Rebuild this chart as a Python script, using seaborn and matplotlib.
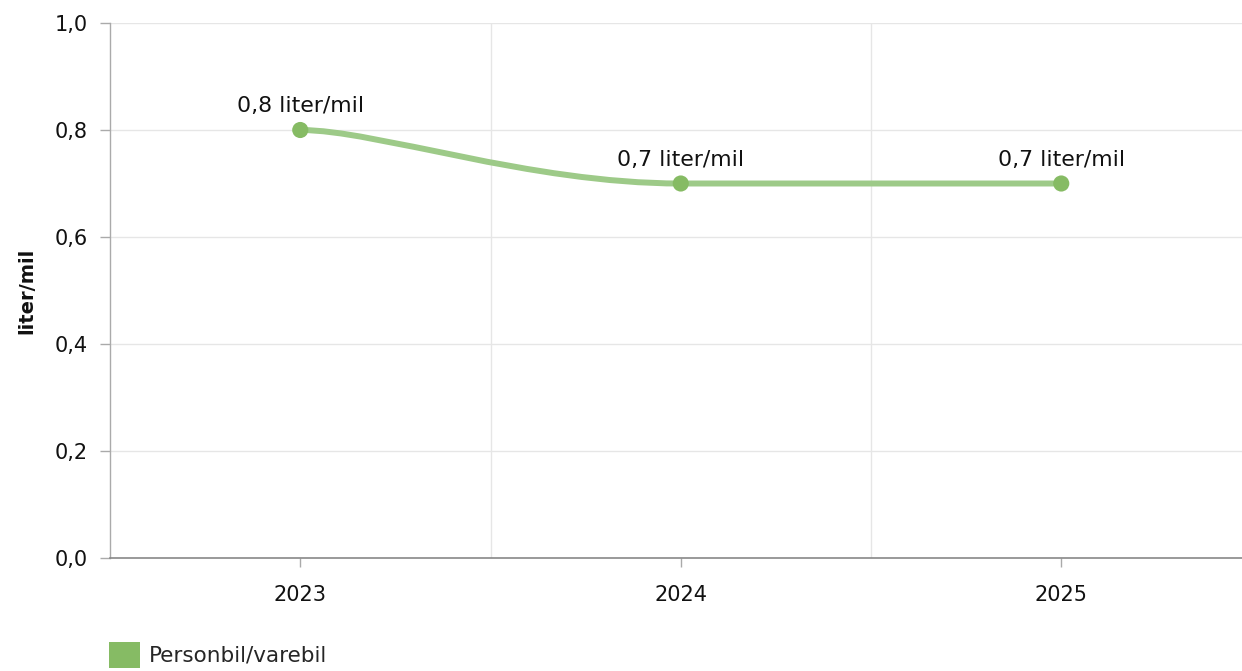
import numpy as np
import pandas as pd
import matplotlib
matplotlib.use('Agg')
import matplotlib.pyplot as plt
from matplotlib.path import Path
from matplotlib.patches import PathPatch, Patch
from matplotlib.ticker import FuncFormatter, FixedLocator
import seaborn as sns

aar = ['2023', '2024', '2025']
forbruk = [0.8, 0.7, 0.7]
serie = 'Personbil/varebil'
enhet = 'liter/mil'

df = pd.DataFrame({'x': np.arange(len(aar)), 'y': forbruk})

sns.set_style('white')
plt.rcParams['font.family'] = ['DejaVu Sans']

farge_punkt = '#86bb64'
farge_linje = '#9dca88'


def spline_path(xs, ys, smoothing=1.5):
    # glatt kurve gjennom punktene (spline a la Highcharts)
    n = len(xs)
    denom = smoothing + 1
    left = [None] * n
    right = [None] * n
    for i in range(n):
        px, py = xs[i], ys[i]
        if 0 < i < n - 1:
            lx, ly = xs[i - 1], ys[i - 1]
            nx, ny = xs[i + 1], ys[i + 1]
            lcx = (smoothing * px + lx) / denom
            lcy = (smoothing * py + ly) / denom
            rcx = (smoothing * px + nx) / denom
            rcy = (smoothing * py + ny) / denom
            corr = ((rcy - lcy) * (rcx - px)) / (rcx - lcx) + py - rcy
            lcy += corr
            rcy += corr
            if lcy > ly and lcy > py:
                lcy = max(ly, py)
                rcy = 2 * py - lcy
            elif lcy < ly and lcy < py:
                lcy = min(ly, py)
                rcy = 2 * py - lcy
            if rcy > ny and rcy > py:
                rcy = max(ny, py)
                lcy = 2 * py - rcy
            elif rcy < ny and rcy < py:
                rcy = min(ny, py)
                lcy = 2 * py - rcy
            left[i] = (lcx, lcy)
            right[i] = (rcx, rcy)
        elif i == 0:
            right[i] = (px + (xs[1] - px) / (2 * denom), py)
        else:
            left[i] = (px - (px - xs[i - 1]) / (2 * denom), py)
    verts = [(xs[0], ys[0])]
    codes = [Path.MOVETO]
    for i in range(1, n):
        verts += [right[i - 1], left[i], (xs[i], ys[i])]
        codes += [Path.CURVE4] * 3
    return Path(verts, codes)


fig = plt.figure(figsize=(12.42, 6.71), dpi=100)
ax = fig.add_axes([110 / 1242, 113 / 671, 1 - 110 / 1242, (558 - 23) / 671])

ax.add_patch(PathPatch(spline_path(list(df['x']), list(df['y'])), fill=False,
                       edgecolor=farge_linje, linewidth=4.3, capstyle='round', zorder=3))
sns.scatterplot(data=df, x='x', y='y', ax=ax, color=farge_punkt, s=135,
                edgecolor='none', zorder=4, legend=False)

for x, y in zip(df['x'], df['y']):
    ax.annotate(f'{y:.1f} {enhet}'.replace('.', ','), (x, y), xytext=(0, 17),
                textcoords='offset points', ha='center', va='center', fontsize=15.8, color='#111111')

ax.set_xlim(-0.5, 2.475)
ax.set_ylim(0, 1.0)
ax.set_yticks(np.arange(0, 1.01, 0.2))
ax.yaxis.set_major_formatter(FuncFormatter(lambda v, p: f'{v:.1f}'.replace('.', ',')))
ax.set_xticks(df['x'])
ax.set_xticklabels(aar)
ax.xaxis.set_minor_locator(FixedLocator([0.5, 1.5]))

ax.grid(axis='y', which='major', color='#e6e6e6', linewidth=1)
ax.grid(axis='x', which='minor', color='#e6e6e6', linewidth=1)
ax.grid(axis='x', which='major', visible=False)
ax.set_axisbelow(True)

for s in ['top', 'right']:
    ax.spines[s].set_visible(False)
ax.spines['left'].set_color('#aaaaaa')
ax.spines['bottom'].set_color('#888888')
ax.spines['left'].set_linewidth(1)
ax.spines['bottom'].set_linewidth(1.2)

ax.tick_params(axis='y', which='major', length=7, width=1, color='#aaaaaa', pad=9,
               labelsize=15, labelcolor='#111111', left=True)
ax.tick_params(axis='x', which='major', length=6.5, width=1, color='#aaaaaa', pad=13,
               labelsize=15, labelcolor='#111111', bottom=True)
ax.tick_params(axis='x', which='minor', length=0)

ax.set_xlabel('')
ax.set_ylabel(enhet, fontsize=14, fontweight='bold', color='#111111', labelpad=13)

fig.legend(handles=[Patch(facecolor=farge_punkt, edgecolor='none', label=serie)],
           loc='upper left', bbox_to_anchor=(109 / 1242, 29 / 671), frameon=False,
           fontsize=15.5, borderpad=0, borderaxespad=0, handlelength=1.45,
           handleheight=1.45, handletextpad=0.4)

fig.savefig('out.png', dpi=100)
